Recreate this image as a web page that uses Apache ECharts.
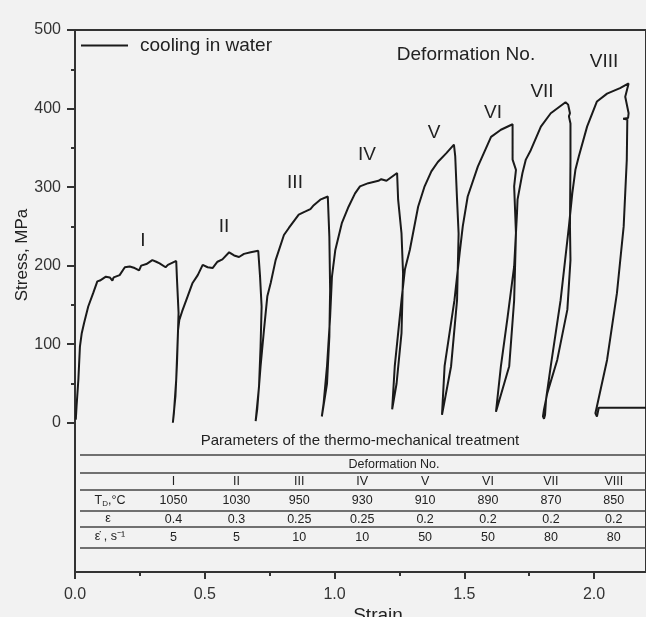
<!DOCTYPE html>
<html><head><meta charset="utf-8">
<script src="https://cdn.jsdelivr.net/npm/echarts@6/dist/echarts.min.js"></script>
<style>html,body{margin:0;padding:0;background:#f2f2f2}#c{width:646px;height:617px}</style>
</head><body><div id="c"></div>
<script>
// ---- data (strain, stress MPa) ----
const defI = [[0.003,4],[0.006,21],[0.013,55],[0.019,97],[0.026,114],[0.035,127],[0.051,148],[0.070,165],[0.086,180],[0.096,181],[0.119,186],[0.134,185],[0.144,181],[0.149,185],[0.172,188],[0.192,198],[0.198,197],[0.211,199],[0.230,197],[0.247,194],[0.255,200],[0.275,202],[0.298,207],[0.313,205],[0.326,203],[0.349,198],[0.358,201],[0.390,206],
  [0.393,182],[0.399,140],[0.397,118],[0.393,76],[0.387,34],[0.377,0]];
const defII = [[0.381,12],[0.390,55],[0.397,118],[0.402,131],[0.413,142],[0.434,161],[0.453,178],[0.473,188],[0.492,201],[0.511,198],[0.530,197],[0.549,205],[0.568,208],[0.594,217],[0.613,213],[0.632,211],[0.651,215],[0.677,217],[0.706,219],
  [0.713,186],[0.719,148],[0.715,97],[0.709,46],[0.696,2]];
const defIII = [[0.702,17],[0.715,72],[0.728,118],[0.741,161],[0.754,178],[0.773,207],[0.805,239],[0.824,248],[0.862,265],[0.888,269],[0.907,272],[0.920,277],[0.945,284],[0.974,288],
  [0.980,237],[0.983,169],[0.980,110],[0.971,50],[0.951,8]];
const defIV = [[0.958,25],[0.971,72],[0.983,135],[0.990,186],[1.003,220],[1.028,254],[1.054,275],[1.079,292],[1.098,301],[1.130,305],[1.169,308],[1.180,310],[1.200,308],[1.241,318],
  [1.245,284],[1.258,241],[1.264,190],[1.258,114],[1.239,50],[1.222,17]];
const defV = [[1.232,72],[1.258,156],[1.271,195],[1.290,220],[1.322,275],[1.347,301],[1.373,320],[1.398,332],[1.430,343],[1.460,354],
  [1.465,339],[1.472,284],[1.478,241],[1.472,156],[1.449,72],[1.414,10]];
const defVI = [[1.424,72],[1.462,156],[1.482,216],[1.494,250],[1.513,288],[1.552,326],[1.603,364],[1.641,373],[1.686,380],
  [1.686,335],[1.699,322],[1.692,301],[1.699,241],[1.692,156],[1.673,72],[1.622,14]];
const defVII = [[1.641,72],[1.667,135],[1.692,199],[1.703,267],[1.705,284],[1.724,318],[1.737,335],[1.756,347],[1.795,377],[1.833,394],[1.890,408],
  [1.900,405],[1.907,394],[1.903,390],[1.909,381],[1.909,335],[1.907,250],[1.909,207],[1.897,144],[1.858,80],[1.820,38],[1.807,17],[1.803,8],[1.807,5],[1.811,10]];
const defVIII = [[1.815,30],[1.833,72],[1.871,156],[1.903,250],[1.916,292],[1.928,322],[1.941,339],[1.973,377],[2.011,409],[2.050,419],[2.100,426],[2.133,432],
  [2.120,415],[2.133,394],[2.131,388],[2.112,387],[2.128,386],[2.126,335],[2.114,250],[2.088,165],[2.050,80],[2.011,21],[2.005,12],[2.011,8],[2.018,19]];
const tail = [[2.018,19],[2.300,19]];

const yTicks = [0,100,200,300,400,500];
const yMinorTicks = [50,150,250,350,450];
const xTicks = [0,0.5,1.0,1.5,2.0];
const xMinorTicks = [0.25,0.75,1.25,1.75];

// parameters table
const deformNo = ['I','II','III','IV','V','VI','VII','VIII'];
const tempD = [1050,1030,950,930,910,890,870,850];
const strainEps = ['0.4','0.3','0.25','0.25','0.2','0.2','0.2','0.2'];
const strainRate = [5,5,10,10,50,50,80,80];

const FONT = "'Liberation Sans', Arial, sans-serif";
const INK = '#222';

const curve = [].concat(defI, defII, defIII, defIV, defV, defVI, defVII, defVIII, tail);

// ---- graphic annotations ----
const graphics = [];
function txt(x, y, text, size, rotation) {
  graphics.push({type:'text', x, y, silent:true, z:100, rotation: rotation||0,
    style: {text, fill: INK, font: size + 'px ' + FONT, align:'center', verticalAlign:'middle'}});
}
// curve labels
const labelPos = [[143,241],[224,227],[295,183],[367,155],[434,133],[493,113],[542,92],[604,62]];
deformNo.forEach((d,i)=> txt(labelPos[i][0], labelPos[i][1], d, 19));
txt(466, 55, 'Deformation No.', 19);
txt(22, 255, 'Stress, MPa', 17, Math.PI/2);
txt(378, 616, 'Strain', 19);

// table
txt(360, 441, 'Parameters of the thermo-mechanical treatment', 15);
txt(394, 465, 'Deformation No.', 12.5);
[455,473,490,511,527,548].forEach(y => graphics.push({type:'line', silent:true, z:90,
  shape:{x1:80,y1:y,x2:660,y2:y}, style:{stroke:'#444', lineWidth:1.5}}));
const colX = i => 173.5 + i*62.9;
deformNo.forEach((d,i)=> txt(colX(i), 482, d, 12.5));
tempD.forEach((v,i)=> txt(colX(i), 501, String(v), 12.5));
strainEps.forEach((v,i)=> txt(colX(i), 520, v, 12.5));
strainRate.forEach((v,i)=> txt(colX(i), 538, String(v), 12.5));
graphics.push({type:'text', x:110, y:501, silent:true, z:100, style:{
  text:'{a|T}{s|D}{a|,°C}', align:'center', verticalAlign:'middle', fill:INK,
  rich:{a:{font:'12.5px '+FONT, fill:INK}, s:{font:'8px '+FONT, fill:INK, padding:[5,0,0,0]}}}});
txt(108, 519, 'ε', 12.5);
txt(110, 537, 'ε̇ , s⁻¹', 12.5);

const chart = echarts.init(document.getElementById('c'), null, {renderer:'canvas'});
chart.setOption({
  animation: false,
  backgroundColor: '#f2f2f2',
  grid: {left:75, top:30, width:574, height:542, show:true, borderColor:'#333', borderWidth:2, backgroundColor:'#f2f2f2'},
  legend: {show:true, left:81, top:36, padding:0, icon:'rect', itemWidth:47, itemHeight:2, itemGap:10,
    textStyle:{fontSize:19, fontFamily:FONT, color:INK, padding:[0,0,0,7]},
    data:['cooling in water']},
  xAxis: [
    {type:'value', min:0, max:2.2, position:'bottom',
     axisLine:{show:true, onZero:false, lineStyle:{color:'#333', width:2}},
     axisTick:{show:true, customValues:xTicks, length:7, lineStyle:{color:'#333', width:2}},
     axisLabel:{customValues:xTicks, formatter:v=>Number(v).toFixed(1), fontSize:16, fontFamily:FONT, color:'#333', margin:15},
     splitLine:{show:false}},
    {type:'value', min:0, max:2.2, position:'bottom',
     axisLine:{show:false, onZero:false}, axisTick:{show:true, customValues:xMinorTicks, length:4, lineStyle:{color:'#333', width:2}},
     axisLabel:{show:false}, splitLine:{show:false}}
  ],
  yAxis: [
    {type:'value', min:-190, max:500, position:'left',
     axisLine:{show:true, onZero:false, lineStyle:{color:'#333', width:2}},
     axisTick:{show:true, customValues:yTicks, length:8, lineStyle:{color:'#333', width:2}},
     axisLabel:{customValues:yTicks, fontSize:16, fontFamily:FONT, color:'#333', margin:14},
     splitLine:{show:false}},
    {type:'value', min:-190, max:500, position:'left',
     axisLine:{show:false, onZero:false}, axisTick:{show:true, customValues:yMinorTicks, length:4, lineStyle:{color:'#333', width:2}},
     axisLabel:{show:false}, splitLine:{show:false}}
  ],
  series: [{
    type:'line', name:'cooling in water', data: curve, xAxisIndex:0, yAxisIndex:0,
    symbol:'none', showSymbol:false, clip:true,
    lineStyle:{color:'#1a1a1a', width:2}, itemStyle:{color:'#1a1a1a'}
  }],
  graphic: graphics
});
</script></body></html>
